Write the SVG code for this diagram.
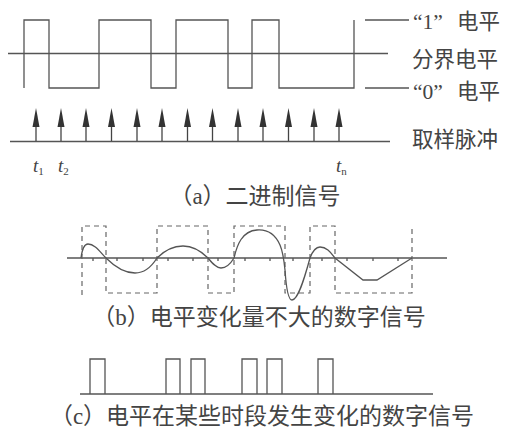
<svg xmlns="http://www.w3.org/2000/svg" width="506" height="435" viewBox="0 0 506 435">
<style>
.ln{fill:none;stroke:#555;stroke-width:1.3}
.dash{fill:none;stroke:#666;stroke-width:1.2;stroke-dasharray:5 4}
.lbl{font-family:"Liberation Serif","Noto Sans CJK SC",serif;fill:#444}
.side{font-size:21.5px}
.cap{font-size:23px;text-anchor:middle}
.t{font-family:"Liberation Serif",serif;font-style:italic;font-size:19px;fill:#444}
.sub{font-size:11px;font-style:normal}
</style>
<defs>
<g id="arr"><line x1="0" y1="141" x2="0" y2="124" stroke="#444" stroke-width="1.3"/><polygon points="0,108 -3.5,127 3.5,127" fill="#333"/></g>
</defs>
<rect width="506" height="435" fill="#fff"/>

<g id="binary-signal">
<line class="ln" x1="8" y1="53.5" x2="388" y2="53.5"/>
<polyline class="ln" points="24,88 24,20 49,20 49,88 99,88 99,20 151,20 151,88 176,88 176,20 228,20 228,88 252,88 252,20 279,20 279,88 354,88 354,20"/>
</g>

<g id="levels">
<line class="ln" x1="365" y1="20" x2="409" y2="20"/>
<line class="ln" x1="365" y1="88" x2="409" y2="88"/>
<text class="lbl side" y="29"><tspan x="413">“1”</tspan><tspan x="457">电平</tspan></text>
<text class="lbl side" x="412" y="67">分界电平</text>
<text class="lbl side" y="99"><tspan x="413">“0”</tspan><tspan x="457">电平</tspan></text>
</g>

<g id="sampling">
<line class="ln" x1="10" y1="141.5" x2="390" y2="141.5"/>
<use href="#arr" x="36"/><use href="#arr" x="61"/><use href="#arr" x="86"/><use href="#arr" x="111.5"/><use href="#arr" x="137"/><use href="#arr" x="162"/><use href="#arr" x="187.5"/><use href="#arr" x="212.5"/><use href="#arr" x="238"/><use href="#arr" x="263"/><use href="#arr" x="288.5"/><use href="#arr" x="314"/><use href="#arr" x="339"/>
<text class="lbl side" x="412" y="147">取样脉冲</text>
<text class="t" x="33" y="172">t<tspan class="sub" dy="3">1</tspan></text>
<text class="t" x="58" y="172">t<tspan class="sub" dy="3">2</tspan></text>
<text class="t" x="336" y="172">t<tspan class="sub" dy="3" font-style="italic">n</tspan></text>
</g>
<text id="cap-a" class="lbl cap" x="255" y="204">（a）二进制信号</text>

<g id="analog-signal">
<line class="ln" x1="67" y1="258" x2="447" y2="258"/>
<path class="ln" stroke-width="1" d="M93,258v3M117,258v3M143,258v3M168,258v3M193,258v3M218,258v3M245,258v3M270,258v3M293,258v3M322,258v3M347,258v3M373,258v3M398,258v3"/>
<path class="dash" d="M82,295 V226 H106 V293 H157 V226 H208 V293 H234 V226 H285 V293 H310 V226 H335 V293 H412 V225"/>
<path class="ln" d="M81,258 C82,250 84,244 88,244 C95,244 100,252 106,258 C115,267 125,273 135,273 C145,273 152,266 157,258 C165,250 173,246 183,246 C195,246 203,253 208,258 C212,263 216,268 221,268 C227,268 231,263 234,258 C237,245 242,231 257,230 C270,229 276,236 280,245 C283,252 284,260 285,270 C286,285 288,300 292,300 C298,300 304,280 310,258 C313,250 316,247 320,247 C327,247 331,253 335,258 L363,280 L377,280 L412,258"/>
</g>
<text id="cap-b" class="lbl cap" x="259" y="325">（b）电平变化量不大的数字信号</text>

<g id="pulse-signal">
<line class="ln" x1="80" y1="394" x2="433" y2="394"/>
<path class="ln" d="M90,394V359H105V394M166,394V359H180V394M191,394V359H205V394M242,394V359H257V394M267,394V359H282V394M318,394V359H333V394"/>
</g>
<text id="cap-c" class="lbl cap" x="262" y="424">（c）电平在某些时段发生变化的数字信号</text>
</svg>
